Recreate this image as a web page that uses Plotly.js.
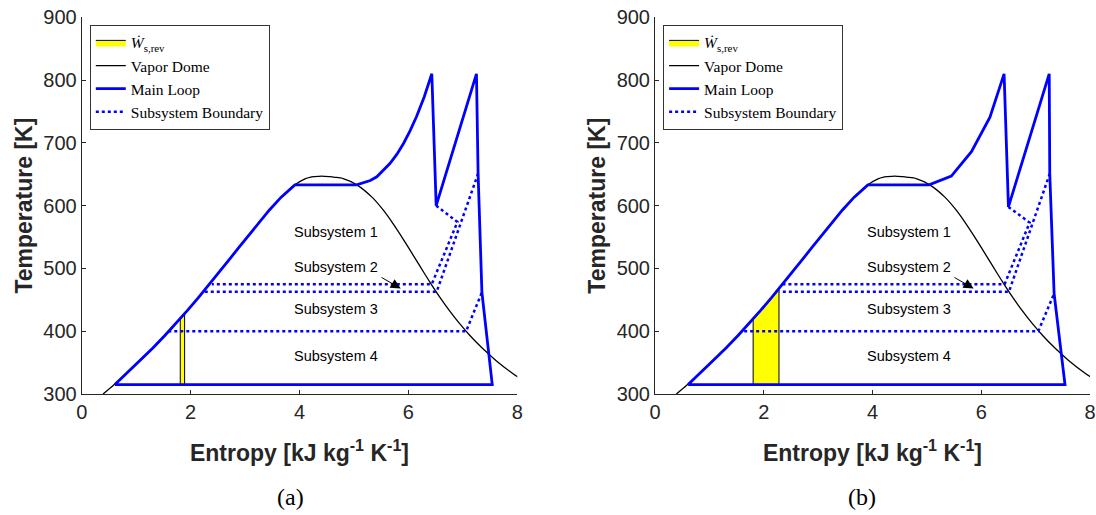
<!DOCTYPE html>
<html>
<head>
<meta charset="utf-8">
<script src="https://cdn.plot.ly/plotly-3.0.1.min.js"></script>
<style>html,body{margin:0;padding:0;background:#fff;}#plot{width:1096px;height:515px;}</style>
</head>
<body>
<div id="plot"></div>
<script>
// ---------- data (entropy kJ/kg/K, temperature K) ----------
// vapor dome (saturated liquid -> critical point -> saturated vapor)
const domeS = [0.393, 0.5725, 0.8312, 1.0753, 1.3069, 1.5276, 1.7391, 1.9427, 2.1396, 2.3309, 2.5178, 2.7015, 2.8838, 3.0668, 3.2534, 3.4480, 3.6594, 3.9147, 4.1106, 4.19, 4.27, 4.407, 4.55, 4.65, 4.8021, 5.0526, 5.3357, 5.5362, 5.7045, 5.8571, 6.0019, 6.1437, 6.2861, 6.4323, 6.5857, 6.7502, 6.9299, 7.1296, 7.3549, 7.6122, 7.9096, 8.2570];
const domeT = [300.0, 313.15, 333.15, 353.15, 373.15, 393.15, 413.15, 433.15, 453.15, 473.15, 493.15, 513.15, 533.15, 553.15, 573.15, 593.15, 613.15, 633.15, 643.15, 645.15, 646.15, 647.1, 646.15, 645.15, 643.15, 633.15, 613.15, 593.15, 573.15, 553.15, 533.15, 513.15, 493.15, 473.15, 453.15, 433.15, 413.15, 393.15, 373.15, 353.15, 333.15, 313.15];

// main loop, case (a)
const loopA_S = [0.61, 0.8312, 1.0753, 1.3069, 1.5276, 1.7391, 1.9427, 2.1396, 2.3309, 2.5178, 2.7015, 2.8838, 3.0668, 3.2534, 3.4480, 3.6594, 3.9147, 5.05, 5.17, 5.30, 5.42, 5.54, 5.66, 5.79, 5.91, 6.03, 6.15, 6.29, 6.43, 6.51, 7.25, 7.28, 7.35, 7.54, 0.61];
const loopA_T = [315, 333.15, 353.15, 373.15, 393.15, 413.15, 433.15, 453.15, 473.15, 493.15, 513.15, 533.15, 553.15, 573.15, 593.15, 613.15, 633.15, 633.15, 636, 640, 646, 656, 667, 682, 699, 719, 742, 773, 810, 600, 810, 651, 462, 315, 315];

// main loop, case (b)
const loopB_S = [0.61, 0.8312, 1.0753, 1.3069, 1.5276, 1.7391, 1.9427, 2.1396, 2.3309, 2.5178, 2.7015, 2.8838, 3.0668, 3.2534, 3.4480, 3.6594, 3.9147, 5.04, 5.45, 5.82, 6.16, 6.42, 6.50, 7.25, 7.26, 7.34, 7.54, 0.61];
const loopB_T = [315, 333.15, 353.15, 373.15, 393.15, 413.15, 433.15, 453.15, 473.15, 493.15, 513.15, 533.15, 553.15, 573.15, 593.15, 613.15, 633.15, 633.15, 647, 686, 741, 810, 598, 810, 651, 460, 315, 315];

// subsystem boundaries (null separates paths)
const boundA_S = [6.51, 6.90, 6.43, 2.39, null, 7.28, 6.52, 2.23, null, 1.59, 7.06, 7.35];
const boundA_T = [600, 574, 475, 475, null, 651, 463, 463, null, 400, 400, 462];
const boundB_S = [6.50, 6.89, 6.43, 2.33, null, 7.26, 6.51, 2.29, null, 1.64, 7.05, 7.34];
const boundB_T = [598, 573, 475, 475, null, 651, 463, 463, null, 400, 400, 460];

// reversible shaft work area
const workA_S = [1.81, 1.81, 1.89, 1.89, 1.81];
const workA_T = [315, 420, 428, 315, 315];
const workB_S = [1.805, 1.805, 2.28, 2.28, 1.805];
const workB_T = [315, 419, 466, 315, 315];

// labels
const subsystemLabels = ['Subsystem 1', 'Subsystem 2', 'Subsystem 3', 'Subsystem 4'];
const labelS = [4.67, 4.67, 4.67, 4.67];
const labelT = [558, 502, 435, 361];
const arrowTail = [5.48, 487];
const arrowHead = [5.86, 468];
const panelLabels = ['(a)', '(b)'];
const xTicks = [0, 2, 4, 6, 8];
const yTicks = [300, 400, 500, 600, 700, 800, 900];

// ---------- traces ----------
const BLUE = 'rgb(0,0,255)';
function panelTraces(xa, ya, lg, wS, wT, lS, lT, bS, bT) {
  return [
    {x: wS, y: wT, xaxis: xa, yaxis: ya, legend: lg, type: 'scatter', mode: 'lines', fill: 'toself',
     fillcolor: 'rgb(255,255,0)', line: {color: 'black', width: 1}, name: '<i>Ẇ</i><sub>s,rev</sub>'},
    {x: domeS, y: domeT, xaxis: xa, yaxis: ya, legend: lg, type: 'scatter', mode: 'lines',
     line: {color: 'black', width: 1.3, shape: 'spline', smoothing: 0.6}, name: 'Vapor Dome'},
    {x: lS, y: lT, xaxis: xa, yaxis: ya, legend: lg, type: 'scatter', mode: 'lines',
     line: {color: BLUE, width: 2.8}, name: 'Main Loop'},
    {x: bS, y: bT, xaxis: xa, yaxis: ya, legend: lg, type: 'scatter', mode: 'lines', connectgaps: false,
     line: {color: BLUE, width: 2.5, dash: 'dot'}, name: 'Subsystem Boundary'}
  ];
}
const data = [].concat(
  panelTraces('x', 'y', 'legend', workA_S, workA_T, loopA_S, loopA_T, boundA_S, boundA_T),
  panelTraces('x2', 'y2', 'legend2', workB_S, workB_T, loopB_S, loopB_T, boundB_S, boundB_T)
);

// ---------- layout ----------
const W = 1096, H = 515;
const axisCol = '#262626';
function xAxis(dom, anchor) {
  return {domain: dom, anchor: anchor, range: [0, 8], tickvals: xTicks, ticks: 'inside', ticklen: 4,
    tickcolor: axisCol, showline: true, linecolor: axisCol, linewidth: 1, showgrid: false, zeroline: false,
    tickfont: {size: 20, color: axisCol}, fixedrange: true,
    title: {text: '<b>Entropy [kJ kg<sup>-1</sup> K<sup>-1</sup>]</b>', font: {size: 23, color: axisCol}, standoff: 22}};
}
function yAxis(anchor) {
  return {domain: [(H - 394) / H, (H - 17.3) / H], anchor: anchor, range: [300, 900], tickvals: yTicks,
    ticks: 'inside', ticklen: 4, tickcolor: axisCol, showline: true, linecolor: axisCol, linewidth: 1,
    showgrid: false, zeroline: false, tickfont: {size: 20, color: axisCol}, fixedrange: true,
    title: {text: '<b>Temperature [K]</b>', font: {size: 23, color: axisCol}, standoff: 4}};
}
const annotations = [];
[['x', 'y'], ['x2', 'y2']].forEach(function (ax) {
  subsystemLabels.forEach(function (t, i) {
    annotations.push({xref: ax[0], yref: ax[1], x: labelS[i], y: labelT[i], text: t, showarrow: false,
      font: {size: 14.5, color: 'black'}, xanchor: 'center', yanchor: 'middle'});
  });
  annotations.push({xref: ax[0], yref: ax[1], axref: ax[0], ayref: ax[1], x: arrowHead[0], y: arrowHead[1],
    ax: arrowTail[0], ay: arrowTail[1], text: '', showarrow: true, arrowhead: 2, arrowsize: 2,
    arrowwidth: 1, arrowcolor: 'black'});
});
annotations.push({xref: 'paper', yref: 'paper', x: 290 / W, y: (H - 497) / H, text: panelLabels[0],
  xanchor: 'center', yanchor: 'middle', showarrow: false,
  font: {family: 'Liberation Serif', size: 24, color: 'black'}});
annotations.push({xref: 'paper', yref: 'paper', x: 862 / W, y: (H - 497) / H, text: panelLabels[1],
  xanchor: 'center', yanchor: 'middle', showarrow: false,
  font: {family: 'Liberation Serif', size: 24, color: 'black'}});

function legendDef(xpx) {
  return {x: xpx / W, y: (H - 25) / H, xanchor: 'left', yanchor: 'top', bgcolor: 'white',
    bordercolor: 'black', borderwidth: 0.8, tracegroupgap: 0, itemwidth: 30,
    font: {family: 'Liberation Serif', size: 15.5, color: 'black'}};
}

const layout = {
  width: W, height: H, margin: {l: 0, r: 0, t: 0, b: 0}, paper_bgcolor: 'white', plot_bgcolor: 'white',
  font: {family: 'Liberation Sans, Arial, sans-serif', color: axisCol},
  showlegend: true,
  xaxis: xAxis([81.7 / W, 517.3 / W], 'y'),
  yaxis: yAxis('x'),
  xaxis2: xAxis([655 / W, 1090 / W], 'y2'),
  yaxis2: yAxis('x2'),
  legend: legendDef(90),
  legend2: legendDef(663.3),
  annotations: annotations
};

Plotly.newPlot('plot', data, layout, {displayModeBar: false, staticPlot: true});
</script>
</body>
</html>
